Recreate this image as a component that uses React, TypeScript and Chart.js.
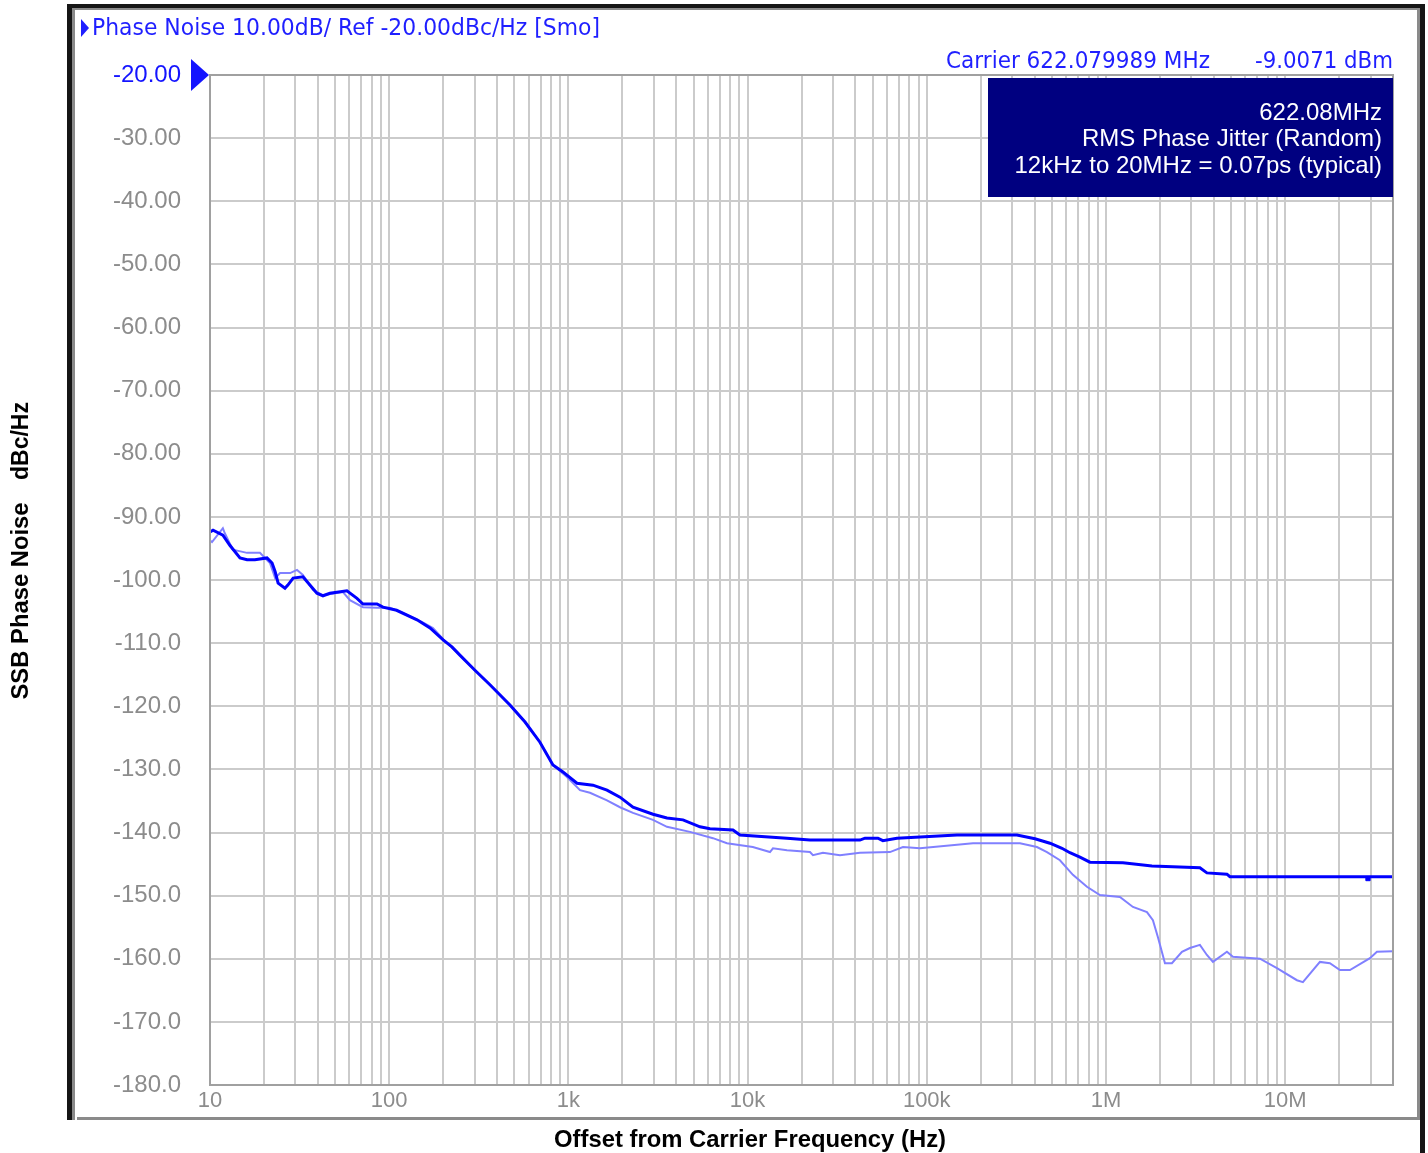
import React, { useEffect, useRef } from 'react';
import { Chart, registerables } from 'chart.js';

Chart.register(...registerables);

// ---- data (offset frequency in Hz, SSB phase noise in dBc/Hz) ----
const darkFreq = [10, 10.4, 11.8, 12.9, 14.7, 16.1, 17.8, 20.8, 22.2, 23.1, 24.0, 26.2, 27.2, 29.1, 33.0, 36.1, 39.5, 42.7, 46.7, 58.1, 66.1, 71.4, 85.5, 92.3, 110, 143, 169, 200, 224, 248, 301, 365, 472, 573, 694, 820, 933, 1117, 1372, 1642, 1941, 2294, 2966, 3549, 4361, 5425, 6169, 8289, 9072, 16590, 22300, 42400, 45200, 53400, 56900, 68200, 147400, 318700, 401700, 486900, 568200, 629600, 716000, 814000, 1.244e6, 1.806e6, 3.346e6, 3.66e6, 4.735e6, 4.92e6, 4.0e7];
const darkLevel = [-92.4, -92.1, -92.9, -94.5, -96.5, -96.8, -96.8, -96.5, -97.3, -98.7, -100.5, -101.3, -100.8, -99.7, -99.5, -100.8, -102.1, -102.5, -102.1, -101.7, -102.9, -103.8, -103.8, -104.3, -104.8, -106.3, -107.6, -109.5, -110.6, -111.9, -114.3, -116.6, -119.8, -122.5, -125.7, -129.3, -130.4, -132.2, -132.5, -133.3, -134.4, -136.0, -137.1, -137.7, -138.0, -139.1, -139.4, -139.6, -140.4, -140.9, -141.2, -141.2, -140.9, -140.9, -141.3, -140.9, -140.4, -140.4, -141.0, -141.7, -142.5, -143.2, -143.9, -144.7, -144.8, -145.3, -145.6, -146.4, -146.6, -147.0, -147.0];

const lightFreq = [10, 10.26, 11.8, 12.1, 13.4, 16.1, 19.0, 21.6, 23.1, 24.6, 28.0, 30.6, 33.0, 37.6, 42.7, 55.2, 60.4, 71.4, 85.5, 101, 119.4, 154, 175.5, 210, 248, 301, 365, 472, 573, 694, 820, 982, 1161, 1320, 1642, 1941, 2294, 2966, 3549, 4771, 6412, 7674, 10700, 13340, 13860, 16590, 22300, 23170, 26360, 32790, 42400, 62300, 73680, 91650, 181100, 331300, 412100, 468700, 553800, 654200, 783400, 925700, 1.197e6, 1.415e6, 1.694e6, 1.829e6, 1.951e6, 2.135e6, 2.335e6, 2.656e6, 2.943e6, 3.346e6, 3.66e6, 3.955e6, 4.735e6, 5.113e6, 7.235e6, 9.0e6, 1.164e7, 1.257e7, 1.564e7, 1.778e7, 2.022e7, 2.3e7, 2.974e7, 3.254e7, 4.0e7];
const lightLevel = [-93.7, -94.0, -91.8, -92.6, -95.2, -95.7, -95.7, -97.3, -99.7, -98.9, -98.9, -98.4, -99.2, -101.6, -102.4, -101.9, -103.2, -104.3, -104.4, -104.4, -105.2, -106.7, -107.6, -110.0, -111.9, -114.3, -116.6, -119.8, -122.5, -125.7, -129.3, -131.2, -133.3, -133.7, -134.9, -136.0, -136.9, -138.0, -139.1, -139.9, -140.9, -141.7, -142.3, -143.1, -142.5, -142.8, -143.1, -143.6, -143.2, -143.6, -143.2, -143.1, -142.3, -142.5, -141.7, -141.7, -142.3, -143.1, -144.4, -146.7, -148.6, -149.9, -150.2, -151.8, -152.6, -153.9, -156.6, -160.7, -160.7, -158.9, -158.3, -157.8, -159.4, -160.5, -158.9, -159.7, -160.0, -161.5, -163.4, -163.7, -160.5, -160.7, -161.8, -161.8, -159.9, -158.9, -158.8];

const markerFreq = [2.9e7];
const markerLevel = [-147.3];

// ---- axes ----
const xMin = 10;
const xMax = 4.0e7;
const yMin = -180;
const yMax = -20;
const yStep = 10;
const refLevel = -20;
const decadeTicks = [10, 100, 1e3, 1e4, 1e5, 1e6, 1e7];
const decadeLabels = ['10', '100', '1k', '10k', '100k', '1M', '10M'];
const gridMultipliers = [1, 2, 3, 4, 5, 6, 7, 8, 9];

// ---- texts ----
const headerText = 'Phase Noise 10.00dB/ Ref -20.00dBc/Hz [Smo]';
const carrierText = 'Carrier 622.079989 MHz';
const powerText = '-9.0071 dBm';
const boxLines = ['622.08MHz', 'RMS Phase Jitter (Random)', '12kHz to 20MHz = 0.07ps (typical)'];
const xTitle = 'Offset from Carrier Frequency (Hz)';
const yTitleMain = 'SSB Phase Noise';
const yTitleUnit = 'dBc/Hz';

const W = 1428;
const H = 1153;

function fitText(ctx: CanvasRenderingContext2D, text: string, x: number, y: number, targetW: number, anchor: 'left' | 'right' | 'center') {
  const w = ctx.measureText(text).width;
  const s = targetW / w;
  ctx.save();
  ctx.translate(x, y);
  ctx.scale(s, 1);
  ctx.textAlign = anchor;
  ctx.fillText(text, 0, 0);
  ctx.restore();
}

const decorPlugin = {
  id: 'decor',
  beforeDraw(chart: any) {
    const ctx = chart.ctx as CanvasRenderingContext2D;
    ctx.save();
    ctx.fillStyle = '#ffffff';
    ctx.fillRect(0, 0, W, H);
    ctx.restore();
  },
  afterDraw(chart: any) {
    const ctx = chart.ctx as CanvasRenderingContext2D;
    const a = chart.chartArea;
    const yScale = chart.scales.y;
    ctx.save();

    // plot border
    ctx.strokeStyle = '#a0a0a0';
    ctx.lineWidth = 2;
    ctx.strokeRect(a.left, a.top, a.right - a.left, a.bottom - a.top);

    // reference level triangle
    const ry = yScale.getPixelForValue(refLevel);
    ctx.fillStyle = '#1414ff';
    ctx.beginPath();
    ctx.moveTo(191, ry - 16);
    ctx.lineTo(209, ry);
    ctx.lineTo(191, ry + 16);
    ctx.closePath();
    ctx.fill();

    // header
    ctx.fillStyle = '#1f1fff';
    ctx.beginPath();
    ctx.moveTo(81, 19);
    ctx.lineTo(89, 28);
    ctx.lineTo(81, 37);
    ctx.closePath();
    ctx.fill();
    ctx.font = '23px "DejaVu Sans"';
    ctx.textBaseline = 'middle';
    fitText(ctx, headerText, 92, 29, 508, 'left');
    fitText(ctx, carrierText, 946, 62, 264, 'left');
    fitText(ctx, powerText, 1393, 62, 138, 'right');

    // info box
    ctx.fillStyle = '#000080';
    ctx.fillRect(988, 78, 405, 119);
    ctx.fillStyle = '#ffffff';
    ctx.font = '24px "Liberation Sans", Arial, sans-serif';
    ctx.textAlign = 'right';
    ctx.textBaseline = 'middle';
    boxLines.forEach((t, i) => ctx.fillText(t, 1382, 113 + i * 26.5));

    // axis titles
    ctx.fillStyle = '#000000';
    ctx.font = 'bold 24px "Liberation Sans", Arial, sans-serif';
    fitText(ctx, xTitle, 750, 1140, 392, 'center');
    ctx.save();
    ctx.translate(21, 0);
    ctx.rotate(-Math.PI / 2);
    fitText(ctx, yTitleMain, -601, 0, 197, 'center');
    fitText(ctx, yTitleUnit, -441, 0, 78, 'center');
    ctx.restore();

    // window frame
    ctx.fillStyle = '#161616';
    ctx.fillRect(67, 4, 5, 1116);
    ctx.fillRect(67, 4, 1358, 4);
    ctx.fillRect(1420, 4, 5, H - 4);
    ctx.fillStyle = '#8a8a8a';
    ctx.fillRect(72, 8, 3, 1112);
    ctx.fillRect(72, 8, 1348, 2);
    ctx.fillRect(1417, 8, 3, 1112);
    ctx.fillRect(77, 1117, 1340, 3);

    ctx.restore();
  },
};

export default function App() {
  const ref = useRef<HTMLCanvasElement>(null);

  useEffect(() => {
    document.body.style.margin = '0';
    const canvas = ref.current;
    if (!canvas) return;

    const darkData = darkFreq.map((f, i) => ({ x: f, y: darkLevel[i] }));
    const lightData = lightFreq.map((f, i) => ({ x: f, y: lightLevel[i] }));
    const markerData = markerFreq.map((f, i) => ({ x: f, y: markerLevel[i] }));

    const chart = new Chart(canvas, {
      type: 'line',
      data: {
        datasets: [
          {
            label: 'marker',
            data: markerData,
            showLine: false,
            pointStyle: 'rect',
            pointRadius: 3,
            pointBackgroundColor: '#0000ff',
            pointBorderColor: '#0000ff',
            order: 0,
          },
          {
            label: 'Trace 1',
            data: darkData,
            borderColor: '#0000ff',
            borderWidth: 3,
            pointRadius: 0,
            tension: 0,
            fill: false,
            order: 1,
          },
          {
            label: 'Trace 2',
            data: lightData,
            borderColor: '#8080ff',
            borderWidth: 2,
            pointRadius: 0,
            tension: 0,
            fill: false,
            order: 2,
          },
        ],
      },
      options: {
        animation: false,
        responsive: false,
        maintainAspectRatio: false,
        parsing: true,
        layout: { padding: { left: 0, top: 75, right: W - 1393, bottom: 0 } },
        plugins: {
          legend: { display: false },
          title: { display: false },
          tooltip: { enabled: false },
        },
        scales: {
          x: {
            type: 'logarithmic',
            min: xMin,
            max: xMax,
            afterBuildTicks: (scale: any) => {
              const ticks: { value: number }[] = [];
              decadeTicks.forEach((d) => {
                gridMultipliers.forEach((m) => {
                  const v = d * m;
                  if (v >= xMin && v <= xMax) ticks.push({ value: v });
                });
              });
              scale.ticks = ticks;
            },
            afterFit: (scale: any) => {
              scale.height = H - 1085;
            },
            grid: { color: '#cbcbcb', lineWidth: 2, drawTicks: false },
            border: { display: true, color: '#a0a0a0', width: 2 },
            ticks: {
              autoSkip: false,
              maxRotation: 0,
              minRotation: 0,
              padding: 3,
              color: '#8c8c8c',
              font: { family: '"Liberation Sans", Arial, sans-serif', size: 22 },
              callback: (value: any) => {
                const idx = decadeTicks.findIndex((d) => Math.abs(d - Number(value)) < d * 1e-6);
                return idx >= 0 ? decadeLabels[idx] : '';
              },
            },
          },
          y: {
            type: 'linear',
            min: yMin,
            max: yMax,
            afterFit: (scale: any) => {
              scale.width = 210;
            },
            grid: { color: '#cbcbcb', lineWidth: 2, drawTicks: false },
            border: { display: true, color: '#a0a0a0', width: 2 },
            ticks: {
              stepSize: yStep,
              padding: 29,
              color: (c: any) => (c.tick && c.tick.value === refLevel ? '#1414ff' : '#8c8c8c'),
              font: { family: '"Liberation Sans", Arial, sans-serif', size: 24 },
              callback: (value: any) => {
                const v = Number(value);
                return v > -100 ? v.toFixed(2) : v.toFixed(1);
              },
            },
          },
        },
      },
      plugins: [decorPlugin],
    } as any);

    return () => chart.destroy();
  }, []);

  return (
    <div style={{ width: W, height: H }}>
      <canvas ref={ref} width={W} height={H} style={{ display: 'block' }} />
    </div>
  );
}
